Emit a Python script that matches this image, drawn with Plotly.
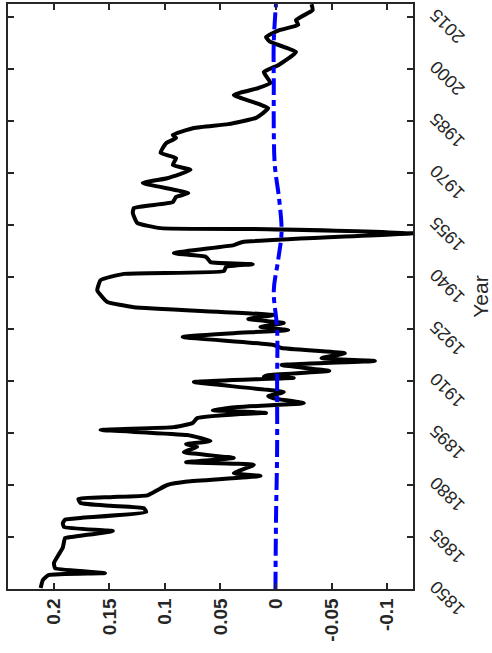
import plotly.graph_objects as go

# Annual series (year, value)
years = [1850.3, 1852.6, 1854.0, 1854.6, 1856.0, 1857.5, 1859.8, 1862.0, 1864.7, 1865.0,
         1866.7, 1867.9, 1869.0, 1870.0, 1870.5, 1872.2, 1873.3, 1874.0, 1874.8, 1876.0,
         1876.5, 1877.0, 1878.5, 1880.0, 1881.0, 1882.6, 1883.4, 1885.8, 1886.6, 1887.8,
         1889.5, 1891.0, 1891.8, 1892.7, 1894.4, 1895.9, 1896.7, 1897.9, 1899.3, 1900.5,
         1900.8, 1901.6, 1902.5, 1903.6, 1905.0, 1905.6, 1906.8, 1909.7, 1910.9, 1911.2,
         1911.7, 1912.9, 1914.6, 1915.8, 1916.6, 1918.0, 1919.5, 1920.4, 1922.7, 1923.8,
         1924.7, 1925.6, 1926.7, 1927.9, 1929.0, 1931.3, 1932.8, 1934.8, 1936.2, 1939.1,
         1940.9, 1941.7, 1942.9, 1943.7, 1944.3, 1945.8, 1946.9, 1949.2, 1950.1, 1952.7,
         1953.8, 1954.1, 1955.6, 1958.5, 1959.9, 1961.6, 1963.1, 1964.2, 1967.1, 1968.5,
         1970.9, 1972.3, 1974.3, 1975.8, 1978.6, 1980.1, 1981.0, 1983.0, 1984.1, 1985.9,
         1988.7, 1992.5, 1994.5, 1996.0, 1999.1, 2001.1, 2004.9, 2007.8, 2009.2, 2011.2,
         2012.7, 2014.1, 2017.0, 2018.7]
values = [0.212, 0.210, 0.205, 0.154, 0.199, 0.200, 0.196, 0.192, 0.190, 0.185,
          0.147, 0.191, 0.192, 0.190, 0.176, 0.117, 0.119, 0.149, 0.176, 0.178,
          0.149, 0.116, 0.107, 0.098, 0.080, 0.014, 0.038, 0.020, 0.081, 0.038,
          0.083, 0.071, 0.081, 0.059, 0.080, 0.158, 0.092, 0.075, 0.071, 0.032,
          0.009, 0.057, 0.034, -0.025, 0.002, 0.007, -0.007, 0.074, -0.016, 0.011,
          0.007, -0.048, -0.005, -0.089, -0.041, -0.062, -0.005, 0.002, 0.084, 0.038,
          -0.011, 0.014, -0.007, 0.025, 0.002, 0.128, 0.152, 0.158, 0.161, 0.158,
          0.137, 0.047, 0.045, 0.021, 0.059, 0.063, 0.092, 0.038, 0.030, -0.126,
          0.007, 0.104, 0.125, 0.129, 0.128, 0.093, 0.090, 0.079, 0.120, 0.098,
          0.077, 0.093, 0.090, 0.104, 0.099, 0.090, 0.093, 0.074, 0.043, 0.018,
          0.007, 0.038, 0.016, 0.005, 0.011, -0.002, -0.018, 0.005, 0.009, -0.003,
          -0.020, -0.018, -0.033, -0.032]

# Smooth reference curve
trend_years = [1850, 1870, 1890, 1910, 1925, 1936, 1945, 1953, 1962, 1972, 1982, 1995, 2008, 2018.7]
trend_values = [0.0005, 0.000, -0.001, -0.001, -0.001, 0.002, -0.002, -0.005, -0.003, 0.001,
                0.002, 0.002, 0.002, 0.000]

value_ticks = [0.2, 0.15, 0.1, 0.05, 0.0, -0.05, -0.1]
value_labels = ["0.2", "0.15", "0.1", "0.05", "0", "-0.05", "-0.1"]
year_ticks = [1850, 1865, 1880, 1895, 1910, 1925, 1940, 1955, 1970, 1985, 2000, 2015]

# Vertical labels are centred by plotly; pad their leading end with no-break
# spaces so that every label ends flush against the axis.
NBSP = "\u00a0"
pad_counts = [3, 1, 3, 1, 6, 0, 2]
value_ticktext = [NBSP * n + s for n, s in zip(pad_counts, value_labels)]

fig = go.Figure()
fig.add_trace(go.Scatter(x=values, y=years, mode="lines",
                         line=dict(color="black", width=4, shape="spline", smoothing=0.4),
                         showlegend=False))
fig.add_trace(go.Scatter(x=trend_values, y=trend_years, mode="lines",
                         line=dict(color="#0000ff", width=4, dash="17px,5px,6px,5px",
                                   shape="spline"),
                         showlegend=False))

axis_common = dict(showgrid=False, zeroline=False, showline=True, linecolor="#262626",
                   linewidth=1.5, mirror="ticks", ticks="inside", ticklen=6,
                   tickwidth=1.5, tickcolor="#262626", automargin=False)

fig.update_layout(
    width=492, height=653,
    margin=dict(l=8, r=79, t=4, b=64),
    paper_bgcolor="white", plot_bgcolor="white",
    font=dict(family="Liberation Sans, Arial, sans-serif", color="#262626"),
    xaxis=dict(range=[0.2414, -0.1234], tickvals=value_ticks, ticktext=value_ticktext,
               tickangle=-90,
               tickfont=dict(size=19, family="Liberation Sans, Arial", weight="bold"),
               **axis_common),
    yaxis=dict(range=[1850, 2018.75], side="right", tickvals=year_ticks,
               tickangle=-135, ticklabelstandoff=41, ticklabelshift=28,
               tickfont=dict(size=18, family="Liberation Sans, Arial"),
               title=dict(text="Year", font=dict(size=21), standoff=15),
               **axis_common),
)

fig.write_html("out.html")
